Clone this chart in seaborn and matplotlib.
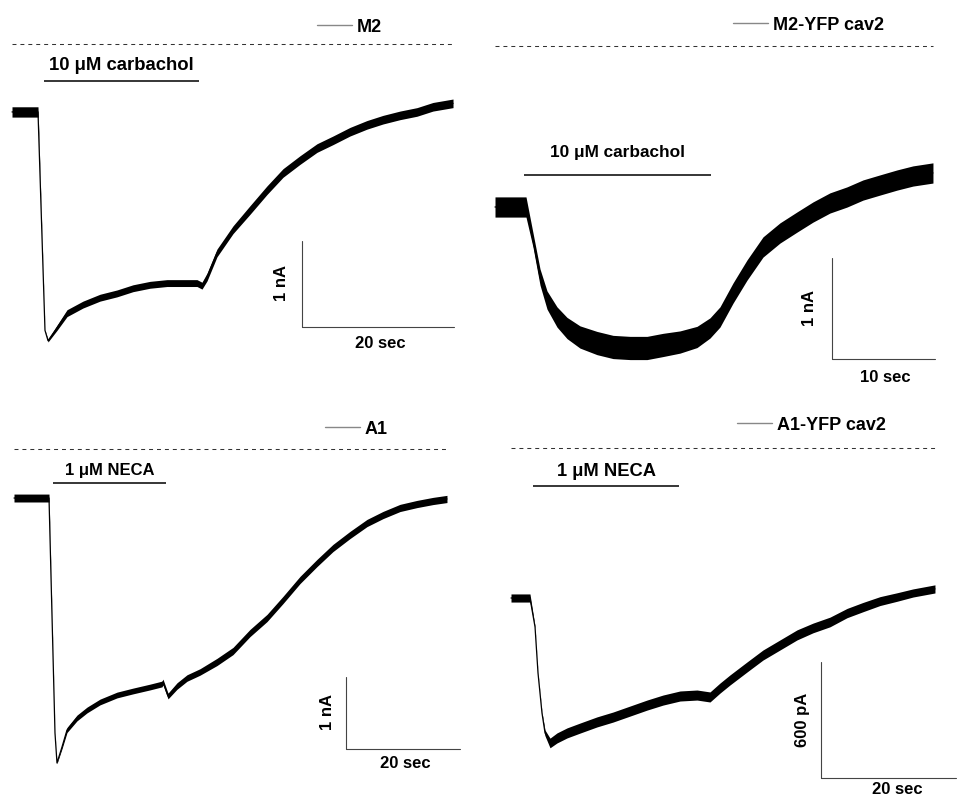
import numpy as np
import pandas as pd
import matplotlib.pyplot as plt
from matplotlib.lines import Line2D
import seaborn as sns

# ---------------- data (time in s, current in nA or pA) ----------------
# M2, 10 uM carbachol
m2_time = [0, 3.42, 4.34, 4.74, 5.92, 7.24, 9.34, 11.58, 13.82, 15.92, 18.16,
           20.39, 22.5, 24.34, 25.0, 25.66, 26.97, 29.08, 31.32, 33.55, 35.66,
           37.89, 40.13, 42.24, 44.47, 46.71, 48.82, 51.05, 53.29, 55.39, 58.03]
m2_current = [-0.79, -0.79, -3.33, -3.45, -3.30, -3.13, -3.03, -2.95, -2.90, -2.84, -2.80,
              -2.78, -2.78, -2.78, -2.81, -2.71, -2.43, -2.16, -1.93, -1.70, -1.50,
              -1.35, -1.21, -1.12, -1.02, -0.94, -0.88, -0.83, -0.79, -0.73, -0.69]
m2_noise = [0.12, 0.12, 0.01, 0.03, 0.06, 0.08, 0.08, 0.08, 0.08, 0.08, 0.08,
            0.08, 0.08, 0.08, 0.08, 0.09, 0.09, 0.09, 0.10, 0.10, 0.10,
            0.10, 0.10, 0.10, 0.10, 0.10, 0.10, 0.10, 0.10, 0.10, 0.10]
m2_drug = (4.2, 24.6)

# M2-YFP cav2, 10 uM carbachol
m2y_time = [0, 3.01, 3.69, 4.37, 5.05, 6.02, 6.99, 8.25, 9.90, 11.46, 13.11,
            14.76, 16.31, 17.96, 19.61, 20.87, 21.84, 23.11, 24.47, 26.02, 27.67,
            29.32, 30.87, 32.52, 34.17, 35.73, 37.38, 39.03, 40.58, 42.52]
m2y_current = [-1.594, -1.594, -1.921, -2.287, -2.515, -2.683, -2.792, -2.881, -2.941, -2.980, -2.990,
               -2.990, -2.960, -2.931, -2.881, -2.792, -2.683, -2.446, -2.218, -1.990, -1.851,
               -1.743, -1.644, -1.554, -1.495, -1.426, -1.376, -1.327, -1.287, -1.257]
m2y_noise = [0.20, 0.20, 0.14, 0.16, 0.18, 0.20, 0.21, 0.22, 0.23, 0.23, 0.23,
             0.23, 0.23, 0.22, 0.21, 0.20, 0.20, 0.20, 0.20, 0.20, 0.20,
             0.20, 0.20, 0.20, 0.20, 0.20, 0.20, 0.20, 0.20, 0.20]
m2y_drug = (2.82, 20.97)

# A1, 1 uM NECA
a1_time = [0, 6.14, 7.19, 7.54, 8.42, 9.30, 11.05, 12.81, 15.09, 18.07, 20.88,
           23.86, 25.96, 26.14, 27.02, 28.60, 30.35, 32.63, 35.61, 38.42, 41.40,
           44.39, 47.19, 50.18, 53.16, 55.96, 58.95, 61.93, 64.74, 67.72, 70.70,
           73.51, 75.96]
a1_current = [-0.681, -0.681, -3.944, -4.361, -4.139, -3.903, -3.736, -3.625, -3.514, -3.417, -3.361,
              -3.306, -3.264, -3.236, -3.431, -3.292, -3.181, -3.097, -2.958, -2.806, -2.556,
              -2.347, -2.097, -1.819, -1.583, -1.375, -1.194, -1.028, -0.917, -0.819, -0.764,
              -0.722, -0.694]
a1_noise = [0.11, 0.11, 0.01, 0.02, 0.05, 0.07, 0.08, 0.08, 0.08, 0.08, 0.08,
            0.08, 0.08, 0.08, 0.08, 0.09, 0.09, 0.09, 0.10, 0.10, 0.10,
            0.10, 0.10, 0.10, 0.10, 0.10, 0.10, 0.10, 0.10, 0.10, 0.10,
            0.10, 0.10]
a1_drug = (6.84, 26.67)

# A1-YFP cav2, 1 uM NECA (pA)
a1y_time = [0, 2.81, 3.56, 4.00, 4.59, 5.04, 5.78, 6.81, 8.30, 10.22, 12.74,
            15.11, 17.63, 20.15, 22.52, 25.04, 27.56, 29.48, 30.96, 32.44, 34.96,
            37.33, 39.85, 42.37, 44.74, 47.26, 49.78, 52.15, 54.67, 57.19, 59.56,
            62.81]
a1y_current = [-776, -776, -926, -1164, -1371, -1474, -1526, -1500, -1474, -1449, -1417,
               -1392, -1361, -1330, -1304, -1283, -1278, -1288, -1242, -1200, -1133,
               -1071, -1019, -967, -931, -900, -854, -823, -792, -771, -750,
               -729]
a1y_noise = [42, 42, 8, 6, 10, 30, 50, 52, 52, 52, 52,
             52, 52, 52, 52, 52, 52, 52, 52, 52, 52,
             52, 52, 52, 50, 50, 48, 48, 46, 44, 42,
             42]
a1y_drug = (3.26, 24.89)

# ---------------- layout (pixel calibration of each panel) ----------------
W, H = 958, 798
panels = [
    dict(name='M2', drug='10 \u03bcM carbachol', drug_fs=13.3, t=m2_time, i=m2_current, noise=m2_noise,
         on_off=m2_drug, bar_t=20, bar_i=1, bar_t_txt='20 sec', bar_i_txt='1 nA',
         box=(0, 0, 479, 399), t0=12, kx=7.6, y0=44, ky=86,
         leg=(317, 27), drug_y=(81, 66), sb=(302, 327), sb_txt=((282, 283), (380, 343))),
    dict(name='M2-YFP cav2', drug='10 \u03bcM carbachol', drug_fs=12.4, t=m2y_time, i=m2y_current, noise=m2y_noise,
         on_off=m2y_drug, bar_t=10, bar_i=1, bar_t_txt='10 sec', bar_i_txt='1 nA',
         box=(479, 0, 958, 399), t0=495, kx=10.3, y0=46, ky=101,
         leg=(733, 25), drug_y=(175, 153), sb=(832, 359), sb_txt=((810, 308), (885, 378))),
    dict(name='A1', drug='1 \u03bcM NECA', drug_fs=12.0, t=a1_time, i=a1_current, noise=a1_noise,
         on_off=a1_drug, bar_t=20, bar_i=1, bar_t_txt='20 sec', bar_i_txt='1 nA',
         box=(0, 399, 479, 798), t0=14, kx=5.7, y0=449, ky=72,
         leg=(325, 429), drug_y=(483, 470), sb=(346, 749), sb_txt=((328, 712), (405, 763))),
    dict(name='A1-YFP cav2', drug='1 \u03bcM NECA', drug_fs=13.2, t=a1y_time, i=a1y_current, noise=a1y_noise,
         on_off=a1y_drug, bar_t=20, bar_i=600, bar_t_txt='20 sec', bar_i_txt='600 pA',
         box=(479, 399, 958, 798), t0=511, kx=6.75, y0=448, ky=0.1933,
         leg=(737, 425), drug_y=(486, 471), sb=(821, 778), sb_txt=((803, 720), (897, 789))),
]

sns.set_theme(style='white')
plt.rcParams['font.family'] = ['Liberation Sans', 'DejaVu Sans']
plt.rcParams['text.color'] = 'black'

fig = plt.figure(figsize=(W / 100, H / 100), dpi=100)

for p in panels:
    x0, y0, x1, y1 = p['box']
    ax = fig.add_axes([x0 / W, 1 - y1 / H, (x1 - x0) / W, (y1 - y0) / H])
    tx = lambda px, p=p: (px - p['t0']) / p['kx']
    iy = lambda py, p=p: (p['y0'] - py) / p['ky']
    ax.set_xlim(tx(x0), tx(x1))
    ax.set_ylim(iy(y1), iy(y0))
    ax.set_axis_off()

    df = pd.DataFrame({'time': p['t'], 'current': p['i'], 'noise': p['noise']})
    ax.fill_between(df['time'], df['current'] - df['noise'] / 2, df['current'] + df['noise'] / 2,
                    color='black', lw=0)
    sns.lineplot(data=df, x='time', y='current', ax=ax, color='black', lw=0.9,
                 estimator=None, sort=False)

    # zero-current reference
    ax.hlines(0, df['time'].min(), df['time'].max(), color='#333333', lw=0.75,
              linestyles=(0, (3.8, 3.8)))

    # drug application bar
    on, off = p['on_off']
    ax.hlines(iy(p['drug_y'][0]), on, off, color='black', lw=1.1)
    ax.text((on + off) / 2, iy(p['drug_y'][1]), p['drug'], ha='center', va='center',
            fontsize=p['drug_fs'], fontweight='bold', color='black')

    # scale bars
    sx, sy = tx(p['sb'][0]), iy(p['sb'][1])
    ax.plot([sx, sx], [sy, sy + p['bar_i']], color='#444444', lw=0.8)
    ax.plot([sx, sx + p['bar_t']], [sy, sy], color='#444444', lw=0.8)
    (vx, vy), (hx, hy) = p['sb_txt']
    ax.text(tx(vx), iy(vy), p['bar_i_txt'], rotation=90, ha='center', va='center',
            fontsize=12, fontweight='bold', color='black')
    ax.text(tx(hx), iy(hy), p['bar_t_txt'], ha='center', va='center',
            fontsize=12, fontweight='bold', color='black')

    # label
    handle = Line2D([], [], color='#888888', lw=1.0)
    ax.legend([handle], [p['name']], loc='center left',
              bbox_to_anchor=(p['leg'][0] / W, 1 - p['leg'][1] / H), bbox_transform=fig.transFigure,
              frameon=False, handlelength=1.95, handletextpad=0.25, borderpad=0, borderaxespad=0,
              prop=dict(weight='bold', size=13))

fig.savefig('out.png', dpi=100)
plt.close(fig)
